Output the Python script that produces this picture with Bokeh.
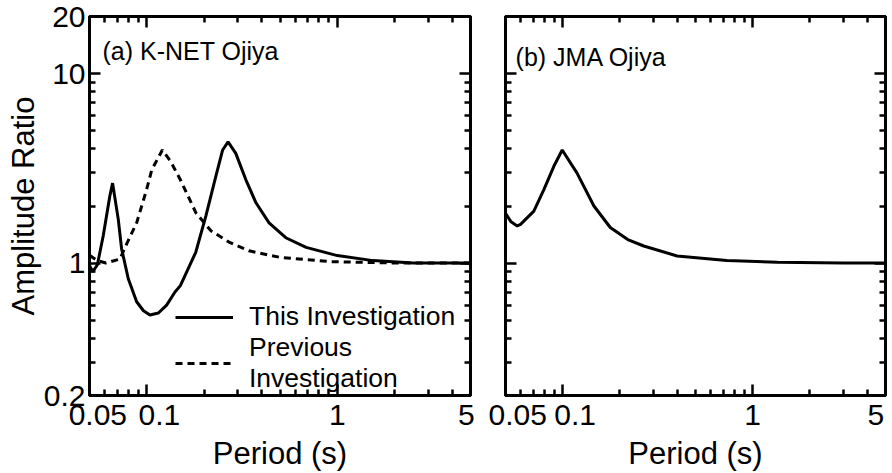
from bokeh.plotting import figure
from bokeh.models import (LogAxis, FixedTicker, Legend, LegendItem, Label,
                          NumeralTickFormatter, CustomLabelingPolicy)
from bokeh.layouts import row
from bokeh.embed import file_html
from bokeh.resources import INLINE

# ---- data ----
x_major = [0.05, 0.1, 1, 5]
x_minor = [0.06, 0.07, 0.08, 0.09, 0.2, 0.3, 0.4, 0.5, 0.6, 0.7, 0.8, 0.9, 2, 3, 4]
y_major = [0.2, 1, 10, 20]
y_minor = [0.3, 0.4, 0.5, 0.6, 0.7, 0.8, 0.9, 2, 3, 4, 5, 6, 7, 8, 9]
NB = "\u00a0"
x_labels_a = {0.05: NB * 2 + "0.05", 0.1: NB * 3 + "0.1", 1: "1", 5: "5" + NB}
x_labels_b = {0.05: "0.05", 0.1: NB * 3 + "0.1", 1: "1", 5: "5" + NB}

# (a) K-NET Ojiya, this investigation
a_this_period = [0.05, 0.052, 0.055, 0.059, 0.0639, 0.0661, 0.0708, 0.0737, 0.0799,
                 0.0884, 0.0960, 0.1038, 0.115, 0.127, 0.1405, 0.150, 0.1806, 0.204,
                 0.230, 0.250, 0.267, 0.293, 0.331, 0.374, 0.438, 0.536, 0.686, 1.0,
                 1.54, 2.5, 5.0]
a_this_amp = [0.97, 0.90, 0.98, 1.39, 2.25, 2.64, 1.70, 1.19, 0.826,
              0.625, 0.56, 0.532, 0.545, 0.60, 0.704, 0.76, 1.14, 1.77,
              2.86, 3.95, 4.36, 3.79, 2.75, 2.08, 1.63, 1.36, 1.21, 1.095,
              1.03, 1.0, 1.0]

# (a) K-NET Ojiya, previous investigation
a_prev_period = [0.05, 0.055, 0.061, 0.0722, 0.0783, 0.0884, 0.0997, 0.1061, 0.1206,
                 0.1335, 0.150, 0.181, 0.217, 0.270, 0.344, 0.496, 0.91, 2.0, 5.0]
a_prev_amp = [1.1, 1.03, 1.0, 1.05, 1.26, 1.63, 2.44, 3.1, 3.95,
              3.43, 2.75, 1.84, 1.48, 1.29, 1.16, 1.073, 1.018, 1.0, 1.0]

# (b) JMA Ojiya
b_period = [0.05, 0.0535, 0.0576, 0.060, 0.0705, 0.0796, 0.0897, 0.0994, 0.119,
            0.146, 0.178, 0.220, 0.267, 0.40, 0.73, 1.35, 3.0, 5.0]
b_amp = [1.83, 1.65, 1.57, 1.6, 1.88, 2.44, 3.23, 3.95, 2.98,
         2.0, 1.54, 1.33, 1.23, 1.09, 1.03, 1.01, 1.0, 1.0]

FONT = "Liberation Sans"
HIDE = "for (const i of indices) indices.unset(i)\nreturn indices"


def style_axis(ax):
    ax.major_tick_in = 11
    ax.major_tick_out = 0
    ax.minor_tick_in = 6
    ax.minor_tick_out = 0
    ax.major_tick_line_width = 2.5
    ax.minor_tick_line_width = 2.5
    ax.major_tick_line_color = "black"
    ax.minor_tick_line_color = "black"
    ax.axis_line_width = 3
    ax.axis_line_color = "black"
    ax.major_label_text_font = FONT
    ax.major_label_text_color = "black"
    ax.axis_label_text_font = FONT
    ax.axis_label_text_font_style = "normal"
    ax.axis_label_text_font_size = "31px"
    ax.axis_label_text_color = "black"
    ax.formatter = NumeralTickFormatter(format="0.[00]")
    ax.major_label_text_font_size = "30px"


def hide_labels(ax):
    ax.major_label_policy = CustomLabelingPolicy(code=HIDE)
    ax.major_label_text_font_size = "2px"
    ax.major_label_standoff = 0


def make_fig(width, border_left, border_right, show_ylabels, xlabels):
    p = figure(width=width, height=473, x_axis_type="log", y_axis_type="log",
               x_range=(0.05, 5), y_range=(0.2, 20),
               output_backend="svg", toolbar_location=None,
               min_border_left=border_left, min_border_right=border_right,
               min_border_top=16, min_border_bottom=75)
    p.grid.visible = False
    p.outline_line_color = "black"
    p.outline_line_width = 3
    p.background_fill_color = "white"
    p.border_fill_color = "white"
    p.add_layout(LogAxis(), "above")
    p.add_layout(LogAxis(), "right")
    xt = FixedTicker(ticks=x_major, minor_ticks=x_minor)
    yt = FixedTicker(ticks=y_major, minor_ticks=y_minor)
    for ax in p.xaxis:
        style_axis(ax)
        ax.ticker = xt
    for ax in p.yaxis:
        style_axis(ax)
        ax.ticker = yt
    hide_labels(p.above[0])
    hide_labels(p.right[0])
    b = p.below[0]
    b.major_label_overrides = xlabels
    b.major_label_standoff = 2
    b.axis_label = "Period (s)"
    b.axis_label_standoff = 2
    if show_ylabels:
        p.left[0].major_label_standoff = 4
        p.left[0].axis_label = "Amplitude Ratio"
        p.left[0].axis_label_standoff = 0
    else:
        hide_labels(p.left[0])
    return p


p1 = make_fig(488, 89, 18, True, x_labels_a)
solid = p1.line(a_this_period, a_this_amp, line_color="black", line_width=3)
dashed = p1.line(a_prev_period, a_prev_amp, line_color="black", line_width=3,
                 line_dash="7 5")
p1.add_layout(Label(x=0.0585, y=15.5, text="(a) K-NET Ojiya", text_baseline="top",
                    text_font=FONT, text_font_size="25px", text_color="black"))
legend = Legend(items=[LegendItem(label="This Investigation", renderers=[solid]),
                       LegendItem(label="Previous\nInvestigation", renderers=[dashed])],
                location=(86, 1))
legend.label_text_font = FONT
legend.label_text_font_size = "26.5px"
legend.label_text_color = "black"
legend.label_text_line_height = 0.7
legend.label_standoff = 16
legend.glyph_width = 58
legend.padding = 0
legend.margin = 0
legend.spacing = 0
legend.border_line_alpha = 0
legend.background_fill_alpha = 0
p1.add_layout(legend, "center")

p2 = make_fig(404, 17, 7, False, x_labels_b)
p2.line(b_period, b_amp, line_color="black", line_width=3)
p2.add_layout(Label(x=0.0565, y=14.5, text="(b) JMA Ojiya", text_baseline="top",
                    text_font=FONT, text_font_size="25px", text_color="black"))

layout = row(p1, p2)
open("out.html", "w").write(file_html(layout, INLINE))
